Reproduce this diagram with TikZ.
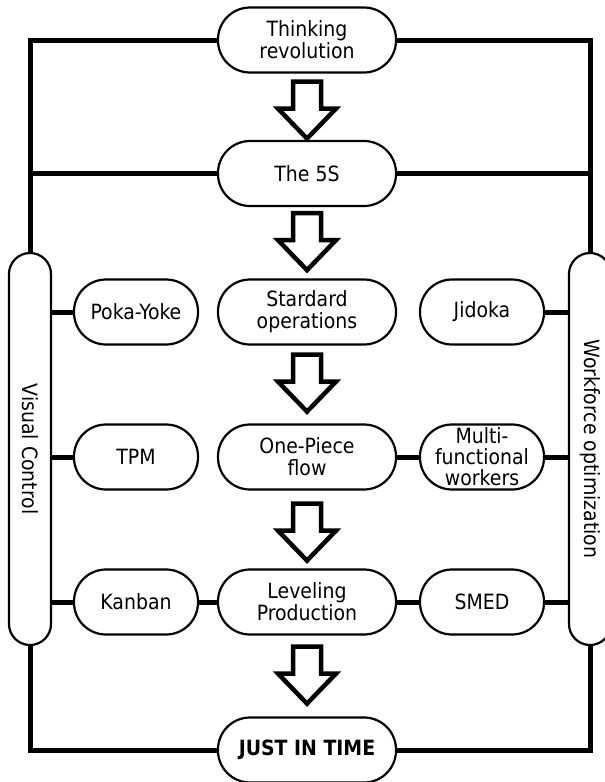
\documentclass[tikz,border=0pt]{standalone}
\usepackage{fontspec}
\setmainfont{DejaVu Sans Condensed}
\usetikzlibrary{calc}
\pgfdeclarelayer{bg}
\pgfsetlayers{bg,main}
\newcommand\blockarr[2]{%
  \draw[barrow] ($(#1.south)+(-14,#2)$) -- ++(28,0) -- ++(0,27) -- ++(15,0)
    -- ++(-29,30) -- ++(-29,-30) -- ++(15,0) -- cycle;}
\begin{document}
\begin{tikzpicture}[x=1pt,y=-1pt,
  txt/.style={font=\fontsize{21}{22}\selectfont},
  box/.style={txt, draw, line width=2.2pt, fill=white, rounded corners=32pt,
    minimum height=65pt, inner sep=0pt, align=center},
  mainbox/.style={box, minimum width=178pt},
  sidebox/.style={box, minimum width=124pt},
  tallbox/.style={draw, line width=2.2pt, fill=white, rounded corners=21pt,
    minimum width=42pt, minimum height=392pt, inner sep=0pt},
  link/.style={line width=5pt},
  barrow/.style={draw, line width=4.5pt, fill=white}]
\useasboundingbox (0,0) rectangle (605,782);

% main column
\node[mainbox] (tr)  at (307,40)    {Thinking\\revolution};
\node[mainbox] (s5)  at (307,173.5) {The 5S};
\node[mainbox] (so)  at (307,312)   {Stardard\\operations};
\node[mainbox] (op)  at (307,457)   {One-Piece\\flow};
\node[mainbox] (lp)  at (307,602)   {Leveling\\Production};
\node[mainbox] (jit) at (307,750)   {\textbf{JUST IN TIME}};

% side nodes
\node[sidebox] (pk)  at (136,312) {Poka-Yoke};
\node[sidebox] (tpm) at (136,457) {TPM};
\node[sidebox] (kb)  at (136,602) {Kanban};
\node[sidebox] (jd)  at (482,312) {Jidoka};
\node[sidebox, font=\fontsize{21}{21}\selectfont] (mf)  at (482,457) {Multi-\\functional\\workers};
\node[sidebox] (sm)  at (482,602) {SMED};

% tall boxes
\node[tallbox] (vc) at (30,449) {};
\node[tallbox] (wo) at (590,449) {};
\node[txt, rotate=-90] (vct) at (vc.center) {Visual Control};
\node[txt, rotate=-90] (wot) at (wo.center) {Workforce optimization};

% block arrows
\blockarr{tr}{8}
\blockarr{s5}{6}
\blockarr{so}{9}
\blockarr{op}{13}
\blockarr{lp}{11}

\begin{pgfonlayer}{bg}
\draw[link] (tr.west) -| (vc.north);
\draw[link] (tr.east) -| (wo.north);
\draw[link] (s5.west) -- (s5.west -| vc.north);
\draw[link] (s5.east) -- (s5.east -| wo.north);
\draw[link] (jit.west) -| (vc.south);
\draw[link] (jit.east) -| (wo.south);
\draw[link] (vc.east |- pk.west) -- (pk.west);
\draw[link] (vc.east |- tpm.west) -- (tpm.west);
\draw[link] (vc.east |- kb.west) -- (kb.west);
\draw[link] (kb.east) -- (lp.west);
\draw[link] (jd.east) -- (jd.east -| wo.west);
\draw[link] (op.east) -- (mf.west);
\draw[link] (mf.east) -- (mf.east -| wo.west);
\draw[link] (lp.east) -- (sm.west);
\draw[link] (sm.east) -- (sm.east -| wo.west);
\end{pgfonlayer}
\end{tikzpicture}
\end{document}
